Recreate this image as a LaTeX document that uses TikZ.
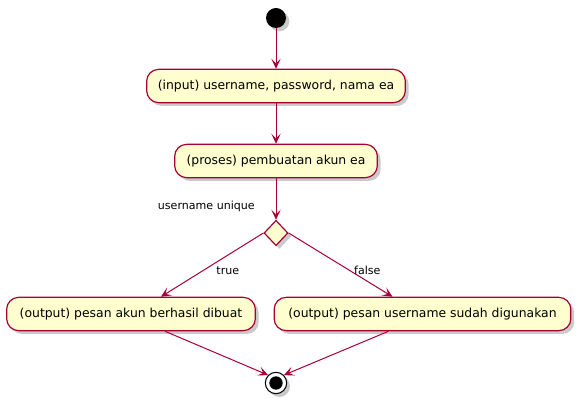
\documentclass[tikz,border=0pt]{standalone}
\usepackage{fontspec}
\setmainfont{DejaVu Sans}
\usetikzlibrary{arrows.meta,shapes.geometric,shadows}
\definecolor{pfill}{HTML}{FEFECE}
\definecolor{pline}{HTML}{A80036}
\begin{document}
\begin{tikzpicture}[x=0.75pt,y=-0.75pt,
  shadowed/.style={drop shadow={shadow xshift=2.5pt,shadow yshift=-2.5pt,opacity=0.35,fill=black!60}},
  actbox/.style={draw=pline,fill=pfill,line width=0.9pt,rounded corners=9pt,minimum height=25pt,inner sep=0pt,font=\fontsize{9.3}{11}\selectfont,shadowed},
  decbox/.style={draw=pline,fill=pfill,line width=0.9pt,diamond,minimum width=18pt,minimum height=19pt,inner sep=0pt,shadowed},
  flow/.style={draw=pline,line width=0.75pt,-{Stealth[length=7.5pt,width=7pt,inset=3.5pt]}},
  lbl/.style={font=\fontsize{8.3}{10}\selectfont,inner sep=0pt}]
\useasboundingbox (0,0) rectangle (579,402);
\node[circle,fill=black,minimum size=15pt,inner sep=0pt,shadowed] (start) at (276,18) {};
\node[actbox,minimum width=194pt] (inp) at (276,86) {(input) username, password, nama ea};
\node[actbox,minimum width=152pt] (pro) at (276,161) {(proses) pembuatan akun ea};
\node[decbox] (dec) at (276,233) {};
\node[lbl,anchor=base east] (cond) at (255,210) {username unique};
\node[actbox,minimum width=186.5pt] (ok) at (131,314) {(output) pesan akun berhasil dibuat};
\node[actbox,minimum width=222.5pt] (no) at (422.5,314) {(output) pesan username sudah digunakan};
\node[circle,draw=black,fill=white,line width=0.8pt,minimum size=16pt,inner sep=0pt,shadowed] (stop) at (276,383) {};
\node[circle,fill=black,minimum size=10pt,inner sep=0pt] (stopin) at (stop) {};
\draw[flow] (start) -- (inp);
\draw[flow] (inp) -- (pro);
\draw[flow] (pro) -- (dec);
\draw[flow] (dec.west) -- node[lbl,pos=0.6,anchor=south west,xshift=10.5pt,yshift=-3pt] {true} ([xshift=22.5pt]ok.north);
\draw[flow] (dec.east) -- node[lbl,pos=0.6,anchor=south west,xshift=2pt,yshift=-3pt] {false} ([xshift=-22.5pt]no.north);
\draw[flow] ([xshift=25.5pt]ok.south) -- (stop.north west);
\draw[flow] ([xshift=-25.5pt]no.south) -- (stop.north east);
\end{tikzpicture}
\end{document}
